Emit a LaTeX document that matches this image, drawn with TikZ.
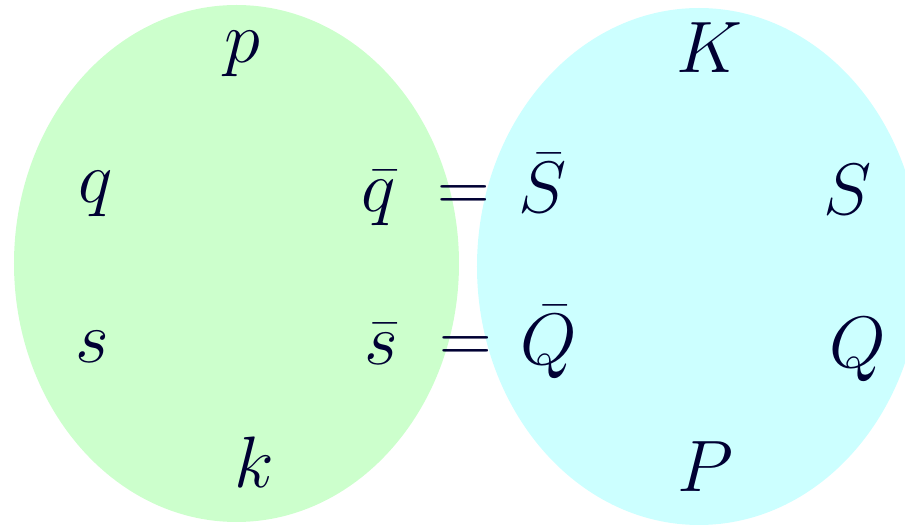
\documentclass[tikz,border=0pt]{standalone}
\usepackage{amsmath,amssymb}
\usepackage{xcolor}
\usepackage{tikz}
\usetikzlibrary{calc}
\definecolor{inkblue}{RGB}{0,0,51}
\definecolor{blobgreen}{RGB}{204,255,204}
\definecolor{blobcyan}{RGB}{204,255,255}

\begin{document}
\begin{tikzpicture}[lbl/.style={text=inkblue, anchor=base, inner sep=0pt,
                    font=\fontsize{22}{26}\selectfont}]

\clip (0,0) rectangle (9.05,5.25);

% ---- Two blobs ----
\fill[blobgreen] (2.365,2.615) ellipse [x radius=2.225, y radius=2.585];
\fill[blobcyan]  (6.99,2.585)  ellipse [x radius=2.22,  y radius=2.585];

% ---- Left blob labels ----
\node[lbl] (p)    at (2.42,4.62) {$p$};
\node[lbl] (q)    at (0.96,3.22) {$q$};
\node[lbl] (qbar) at (3.79,3.13) {$\bar{q}$};
\node[lbl] (s)    at (0.92,1.62) {$s$};
\node[lbl] (sbar) at (3.81,1.60) {$\bar{s}$};
\node[lbl] (k)    at (2.54,0.37) {$k$};

% ---- Right blob labels ----
\node[lbl] (K)    at (7.09,4.52) {$K$};
\node[lbl] (Sbar) at (5.43,3.12) {$\bar{S}$};
\node[lbl] (S)    at (8.48,3.10) {$S$};
\node[lbl] (Qbar) at (5.49,1.60) {$\bar{Q}$};
\node[lbl] (Q)    at (8.58,1.57) {$Q$};
\node[lbl] (P)    at (7.05,0.33) {$P$};

% ---- Identifications ----
\node[lbl] (eqTop) at (4.64,3.13) {$=$};
\node[lbl] (eqBot) at (4.66,1.62) {$=$};

\end{tikzpicture}
\end{document}
